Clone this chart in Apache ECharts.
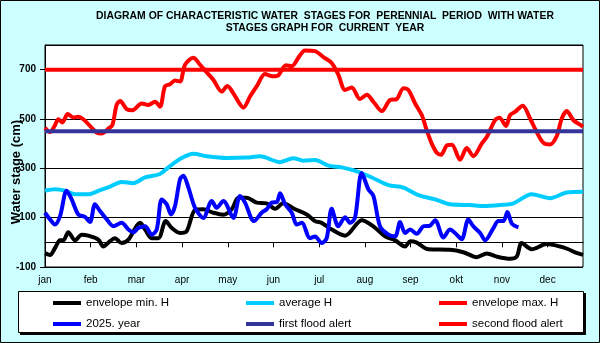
<!DOCTYPE html>
<html>
<head>
<meta charset="utf-8">
<script src="https://cdn.jsdelivr.net/npm/echarts@6/dist/echarts.min.js"></script>
<style>
  html, body { margin: 0; padding: 0; background: #ccffff; }
  #chart { width: 600px; height: 343px; }
</style>
</head>
<body>
<div id="chart"></div>
<script>
// day of year (0..365) -> water stage in cm
const months = ['jan', 'feb', 'mar', 'apr', 'may', 'jun', 'jul', 'aug', 'sep', 'okt', 'nov', 'dec'];

const envMin = [
  [0, -44], [3.4, -51], [6.8, -23], [10.2, 8], [12.4, 8], [15.8, 41], [20.4, 8], [24.9, 31], [29.4, 27],
  [36.2, 11], [39.6, -17], [43, -1], [47.5, 17], [52, -3], [56.6, 11], [64.5, 79], [67.9, 52], [72.4, 17],
  [76.9, 17], [81.9, 86], [86, 58], [91.6, 38], [96.1, 45], [101.8, 131], [107.4, 134], [114.2, 120],
  [121, 112], [126.7, 134], [131.2, 181], [136.8, 181], [143.6, 161], [150.4, 158], [156.1, 136],
  [161.7, 158], [169.7, 134], [177.6, 113], [183.2, 86], [187.7, 79], [194.5, 52], [203.6, 27],
  [214.9, 90], [222.8, 65], [230.7, 24], [237.5, 8], [244.3, -17], [247.7, 4], [252.2, -1], [260.1, -28],
  [274.8, -30], [283.8, -40], [292.9, -60], [299.7, -45], [306.5, -58], [315.5, -67], [320, -58],
  [323.4, -3], [330.2, -28], [340.4, -7], [349.5, -17], [355.1, -28], [359.6, -41], [365, -51]
];

const avgH = [
  [0, 209], [6.8, 215], [13.6, 209], [20.4, 195], [29.4, 195], [36.2, 209], [44.1, 226], [52, 245],
  [60, 240], [67.9, 263], [78, 277], [83.7, 304], [91.6, 338], [100.6, 359], [109.7, 349], [123.3, 342],
  [136.8, 344], [145.9, 349], [159.5, 325], [168.5, 341], [175.3, 331], [183.2, 334], [192.2, 311],
  [201.3, 304], [212.6, 286], [221.7, 263], [233, 232], [243.2, 222], [253.3, 191], [264.7, 174],
  [274.8, 154], [288.4, 151], [297.4, 147], [308.7, 151], [317.8, 158], [330.2, 195], [342.7, 179],
  [354, 202], [365, 205]
];

const envMax = [
  [0, 464], [3.4, 447], [6.8, 475], [9, 499], [11.8, 486], [15.4, 520], [19.2, 506], [22.6, 509], [26, 499],
  [30.5, 472], [35, 445], [38.5, 441], [43, 461], [45.7, 475], [48.6, 557], [51, 573], [55.4, 540],
  [59.3, 535], [65.6, 563], [70, 557], [74.7, 570], [78, 550], [81.4, 632], [84.8, 641], [88.2, 656],
  [91.6, 652], [95, 720], [100.6, 748], [105.2, 720], [110.8, 682], [114.2, 659], [119.9, 611],
  [123.7, 634], [127.8, 604], [131.9, 563], [134.6, 546], [139.1, 591], [143.6, 632], [149.3, 682],
  [154.5, 673], [158.3, 677], [163.5, 718], [167.4, 714], [172.6, 755], [176.4, 778], [183.2, 775],
  [188.9, 751], [194.5, 727], [199, 680], [203.6, 618], [208.1, 628], [213.7, 581], [218.3, 598],
  [222.8, 570], [228.5, 532], [234.1, 577], [238.6, 581], [243.2, 625], [246.5, 618], [251.1, 563],
  [255.6, 516], [259, 454], [262.4, 400], [265.8, 363], [268.7, 355], [272.6, 393], [276, 396],
  [281.6, 335], [286.1, 382], [290.6, 349], [296.3, 400], [299.7, 427], [305.3, 495], [308.3, 505],
  [312.8, 472], [315.5, 516], [318.9, 529], [324.1, 554], [329.1, 502], [334.1, 441], [338.1, 404],
  [342.7, 397], [347.2, 431], [350.6, 502], [354, 532], [358.5, 495], [363, 477], [365, 468]
];

const year2025 = [
  [0, 120], [3.4, 93], [6.8, 72], [10.2, 106], [14.7, 209], [18.1, 174], [22.6, 113], [27.1, 103],
  [30.5, 82], [33.9, 154], [37.3, 127], [41.9, 93], [46.4, 65], [52, 79], [56.6, 52], [60, 41],
  [63.3, 58], [67.9, 65], [72.4, 31], [75.8, 52], [79.2, 174], [82.6, 154], [85.5, 113], [88.2, 147],
  [91.6, 256], [93.9, 270], [97.3, 222], [101.8, 140], [107.4, 99], [113.1, 168], [116.5, 140],
  [121, 168], [127.8, 99], [132.3, 188], [135.7, 161], [141.8, 86], [147, 120], [150.4, 134],
  [153.8, 161], [157.2, 163], [159.5, 199], [162.9, 154], [167.4, 120], [170.8, 72], [174.2, 79],
  [179.8, 17], [183.2, 24], [187.7, -3], [191.1, 17], [194.5, 136], [199, 65], [203.6, 102], [207, 79],
  [210.3, 99], [214.9, 281], [219.4, 215], [222.8, 188], [227.3, 65], [233, 31], [237.5, 24],
  [240.9, 82], [244.3, 38], [247.7, 52], [252.2, 35], [256.7, 65], [261.3, 68], [264.7, 90],
  [270.3, 20], [274.8, 52], [278.2, 38], [282.7, 13], [287.2, 93], [290.6, 65], [295.2, 38],
  [298.6, 8], [304.2, 58], [307.6, 86], [311, 86], [313.7, 123], [316.7, 76], [321.2, 61]
];

const firstAlert = [[0, 450], [365, 450]];
const secondAlert = [[0, 700], [365, 700]];

const font = "'Liberation Sans', Arial, sans-serif";

const chart = echarts.init(document.getElementById('chart'));

function lineSeries(name, data, color, smooth) {
  return {
    name: name,
    type: 'line',
    data: data,
    showSymbol: false,
    smooth: smooth,
    lineStyle: { color: color, width: 4 },
    itemStyle: { color: color },
    silent: true
  };
}

const legendBase = {
  orient: 'vertical',
  top: 291,
  itemWidth: 28,
  itemHeight: 4,
  itemGap: 7,
  icon: 'rect',
  selectedMode: false,
  textStyle: { fontFamily: font, fontSize: 11.5, color: '#000', lineHeight: 14 }
};

chart.setOption({
  backgroundColor: '#ccffff',
  animation: false,
  graphic: [
    // outer frame
    { type: 'rect', z: -10, shape: { x: 0.5, y: 0.5, width: 599, height: 342 },
      style: { fill: 'none', stroke: '#000', lineWidth: 1 } },
    // legend box with its shadow
    { type: 'rect', z: -10, shape: { x: 20, y: 293, width: 566, height: 42 }, style: { fill: '#000' } },
    { type: 'rect', z: -9, shape: { x: 18.5, y: 291.5, width: 565, height: 41 },
      style: { fill: '#fff', stroke: '#000', lineWidth: 1 } },
    { type: 'text', style: { text: 'DIAGRAM OF CHARACTERISTIC WATER  STAGES FOR  PERENNIAL  PERIOD  WITH WATER',
      x: 325, y: 16, align: 'center', verticalAlign: 'middle', font: 'bold 10.4px ' + font, fill: '#000' } },
    { type: 'text', style: { text: 'STAGES GRAPH FOR  CURRENT  YEAR',
      x: 325, y: 28, align: 'center', verticalAlign: 'middle', font: 'bold 10.4px ' + font, fill: '#000' } },
    { type: 'text', x: 16, y: 172, rotation: Math.PI / 2,
      style: { text: 'Water stage (cm)', x: 0, y: 0, align: 'center', verticalAlign: 'middle',
        font: 'bold 13px ' + font, fill: '#000' } }
  ],
  legend: [
    Object.assign({}, legendBase, { left: 48, data: ['envelope min. H', '2025. year'] }),
    Object.assign({}, legendBase, { left: 241, data: ['average H', 'first flood alert'] }),
    Object.assign({}, legendBase, { left: 434, data: ['envelope max. H', 'second flood alert'] })
  ],
  grid: {
    left: 45, right: 17, top: 45, bottom: 76,
    show: true, backgroundColor: '#fff', borderColor: '#000', borderWidth: 1
  },
  xAxis: {
    type: 'value',
    min: 0,
    max: 365,
    interval: 31,
    axisLine: { lineStyle: { color: '#000', width: 1 } },
    axisTick: { show: true, length: 5, lineStyle: { color: '#000' } },
    splitLine: { show: false },
    axisLabel: {
      showMaxLabel: false,
      margin: 8,
      color: '#000',
      fontFamily: font,
      fontSize: 10,
      formatter: v => months[Math.round(v / 31)] || ''
    }
  },
  yAxis: {
    type: 'value',
    min: -100,
    max: 800,
    interval: 200,
    axisLine: { show: true, lineStyle: { color: '#000', width: 1 } },
    axisTick: { show: true, length: 5, lineStyle: { color: '#000' } },
    splitLine: { show: true, lineStyle: { color: '#000', width: 1 } },
    axisLabel: {
      showMaxLabel: false,
      margin: 9,
      color: '#000',
      fontFamily: font,
      fontSize: 10,
      fontWeight: 'bold'
    }
  },
  series: [
    lineSeries('envelope min. H', envMin, '#000000', 0.3),
    lineSeries('average H', avgH, '#00ccff', 0.3),
    lineSeries('envelope max. H', envMax, '#ff0000', 0.3),
    lineSeries('2025. year', year2025, '#0000ff', 0.3),
    lineSeries('first flood alert', firstAlert, '#333399', false),
    lineSeries('second flood alert', secondAlert, '#ff0000', false)
  ]
});
</script>
</body>
</html>
